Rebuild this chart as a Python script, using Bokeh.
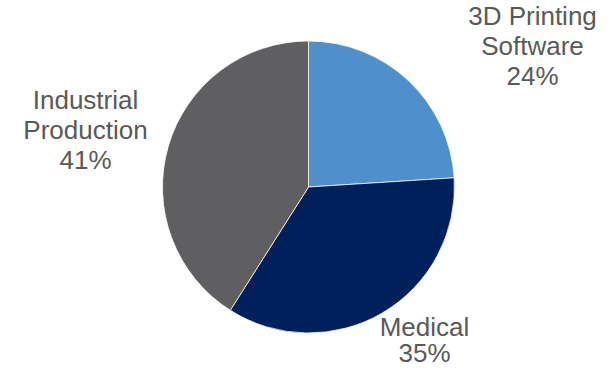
from bokeh.plotting import figure
from bokeh.models import ColumnDataSource
from bokeh.core.properties import value
from bokeh.embed import file_html
from bokeh.resources import INLINE
import math

# ---- data ----
categories = ["3D Printing Software", "Medical", "Industrial Production"]
shares = [24, 35, 41]
label_lines = [["3D Printing", "Software"], ["Medical"], ["Industrial", "Production"]]
colors = ["#4F90CC", "#00205B", "#5F5F62"]

# ---- layout (picture pixel coords; data y = H - pixel y) ----
W, H = 599, 367
cx, cy, r = 308, H - 186.5, 146
text_shift = 8  # svg text renders lower than the requested alphabetic baseline
label_anchor = [(532, 23), (424, 334), (85, 107)]  # first-line baseline, pixel y
line_steps = [30, 26, 30]

total = sum(shares)
starts, ends = [], []
a = math.pi / 2
for s in shares:
    starts.append(a)
    a -= s / total * 2 * math.pi
    ends.append(a)

src = ColumnDataSource(dict(start=starts, end=ends, color=colors, cat=categories))

p = figure(width=W, height=H, x_range=(0, W), y_range=(0, H),
           output_backend="svg", toolbar_location=None, min_border=0)
p.axis.visible = False
p.grid.visible = False
p.outline_line_color = None
p.background_fill_color = "white"
p.border_fill_color = "white"

p.wedge(x=cx, y=cy, radius=r, start_angle="start", end_angle="end", direction="clock",
        fill_color="color", line_color="white", line_width=0.75, source=src)

tx, ty, tt = [], [], []
for lines, s, (ax, ay), step in zip(label_lines, shares, label_anchor, line_steps):
    all_lines = lines + [f"{s}%"]
    for i, ln in enumerate(all_lines):
        tx.append(ax)
        ty.append(H - (ay + i * step - text_shift))
        tt.append(ln)

p.text(x=tx, y=ty, text=tt, text_align="center", text_baseline="alphabetic",
       text_font=value("Liberation Sans"), text_font_size="26px", text_color="#595959")

open("out.html", "w").write(file_html(p, INLINE))
